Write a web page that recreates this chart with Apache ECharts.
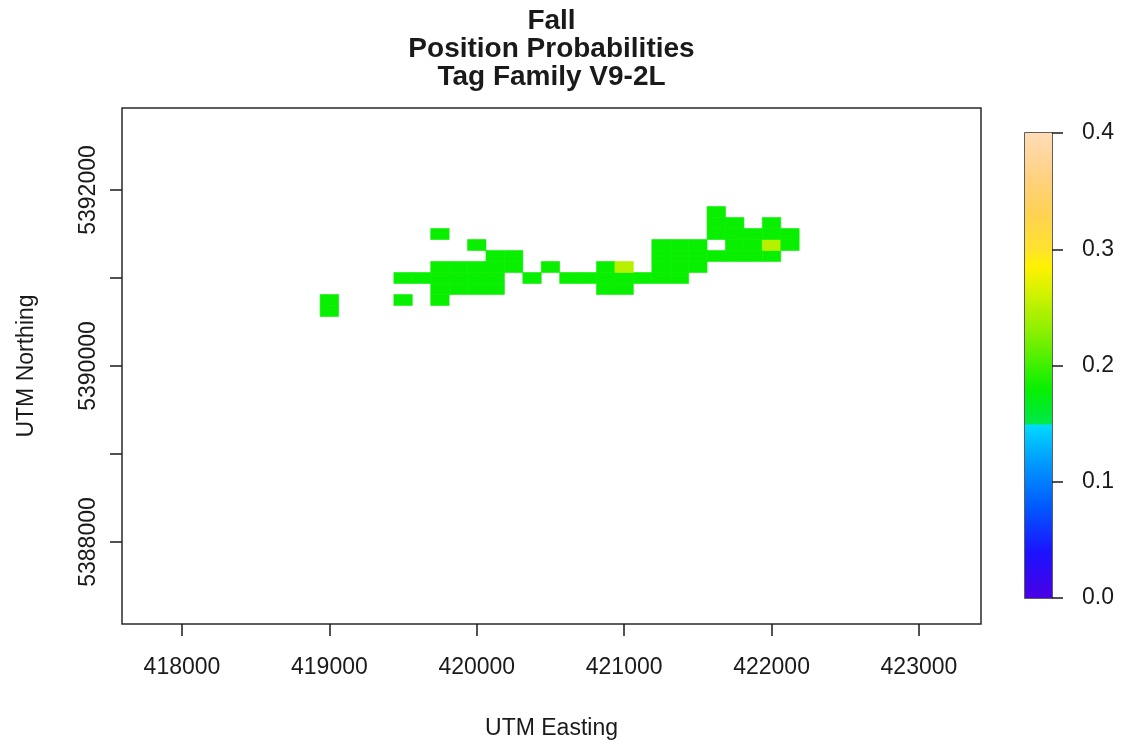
<!DOCTYPE html>
<html>
<head>
<meta charset="utf-8">
<title>Fall Position Probabilities</title>
<script src="https://cdn.jsdelivr.net/npm/echarts@6/dist/echarts.min.js"></script>
<style>
  html, body { margin: 0; padding: 0; background: #ffffff; }
  #chart { width: 1122px; height: 744px; }
</style>
</head>
<body>
<div id="chart"></div>
<script>
// ---- chart content ----
const titleLines = ['Fall', 'Position Probabilities', 'Tag Family V9-2L'];
const xAxisName = 'UTM Easting';
const yAxisName = 'UTM Northing';

// axis ticks and labels (metres)
const xTicks = [418000, 419000, 420000, 421000, 422000, 423000];
const yTicks = [5388000, 5389000, 5390000, 5391000, 5392000];
const yLabels = [5388000, 5390000, 5392000];
const probTicks = [0, 0.1, 0.2, 0.3, 0.4];

// grid cell centres (UTM metres) and position probability of each cell
const eastings = [
  419000,
  419000, 419500, 419750,
  419750, 419875, 420000, 420125, 420875, 421000,
  419500, 419625, 419750, 419875, 420000, 420125, 420375, 420625, 420750, 420875, 421000, 421125, 421250, 421375,
  419750, 419875, 420000, 420125, 420250, 420500, 420875, 421000, 421250, 421375, 421500,
  420125, 420250, 421250, 421375, 421500, 421625, 421750, 421875, 422000,
  420000, 421250, 421375, 421500, 421750, 421875, 422000, 422125,
  419750, 421625, 421750, 421875, 422000, 422125,
  421625, 421750, 422000,
  421625
];
const northings = [
  5390625,
  5390750, 5390750, 5390750,
  5390875, 5390875, 5390875, 5390875, 5390875, 5390875,
  5391000, 5391000, 5391000, 5391000, 5391000, 5391000, 5391000, 5391000, 5391000, 5391000, 5391000, 5391000, 5391000, 5391000,
  5391125, 5391125, 5391125, 5391125, 5391125, 5391125, 5391125, 5391125, 5391125, 5391125, 5391125,
  5391250, 5391250, 5391250, 5391250, 5391250, 5391250, 5391250, 5391250, 5391250,
  5391375, 5391375, 5391375, 5391375, 5391375, 5391375, 5391375, 5391375,
  5391500, 5391500, 5391500, 5391500, 5391500, 5391500,
  5391625, 5391625, 5391625,
  5391750
];
const probs = [
  0.18,
  0.18, 0.18, 0.18,
  0.18, 0.18, 0.18, 0.18, 0.18, 0.18,
  0.18, 0.18, 0.18, 0.18, 0.18, 0.18, 0.18, 0.18, 0.18, 0.18, 0.18, 0.18, 0.18, 0.18,
  0.18, 0.18, 0.18, 0.18, 0.18, 0.18, 0.18, 0.25, 0.18, 0.18, 0.18,
  0.18, 0.18, 0.18, 0.18, 0.18, 0.18, 0.18, 0.18, 0.18,
  0.18, 0.18, 0.18, 0.18, 0.18, 0.18, 0.25, 0.18,
  0.18, 0.18, 0.18, 0.18, 0.18, 0.18,
  0.18, 0.18, 0.18,
  0.18
];

// ---- styling ----
const CELL_SIZE = 125;               // metres per grid cell side
const X_RANGE = [417593, 423421];
const Y_RANGE = [5387068, 5392932];
const P_MAX = 0.4;
const FONT = "'Liberation Sans', Arial, Helvetica, sans-serif";
const INK = '#1a1a1a';

// colour ramp of the probability scale: [value, colour]
const rampStops = [
  [0.000, '#4a00e4'],
  [0.040, '#1a14ff'],
  [0.080, '#005cff'],
  [0.115, '#0098ff'],
  [0.140, '#00c8ff'],
  [0.1485, '#00dcff'],
  [0.1500, '#00e84a'],
  [0.165, '#00ec22'],
  [0.180, '#08f000'],
  [0.200, '#3ef000'],
  [0.230, '#8cf000'],
  [0.260, '#cdf200'],
  [0.285, '#fff200'],
  [0.300, '#ffe22e'],
  [0.330, '#ffd252'],
  [0.360, '#ffd17e'],
  [0.400, '#ffdcb6']
];

function hexRgb(h) {
  return [parseInt(h.slice(1, 3), 16), parseInt(h.slice(3, 5), 16), parseInt(h.slice(5, 7), 16)];
}
function rampColor(v) {
  for (let k = 1; k < rampStops.length; k++) {
    const a = rampStops[k - 1], b = rampStops[k];
    if (v <= b[0]) {
      const t = (v - a[0]) / (b[0] - a[0]);
      const ca = hexRgb(a[1]), cb = hexRgb(b[1]);
      const c = ca.map((x, idx) => Math.round(x + (cb[idx] - x) * t));
      return 'rgb(' + c.join(',') + ')';
    }
  }
  return rampStops[rampStops.length - 1][1];
}
// finely sampled palette so the visualMap keeps the sharp cyan/green step
const palette = [];
for (let k = 0; k <= 400; k++) palette.push(rampColor(P_MAX * k / 400));

const cells = eastings.map((e, idx) => [e, northings[idx], probs[idx]]);

const tickStyle = { color: INK, width: 1.5 };
const labelStyle = { color: INK, fontSize: 23, fontFamily: FONT };

const chart = echarts.init(document.getElementById('chart'), null, { renderer: 'canvas' });

chart.setOption({
  animation: false,
  backgroundColor: '#ffffff',
  graphic: titleLines.map((line, idx) => ({
    type: 'text',
    x: 551.5,
    y: 21 + idx * 28,
    style: {
      text: line,
      fill: INK,
      font: "bold 28px " + FONT,
      textAlign: 'center',
      textVerticalAlign: 'middle'
    }
  })),
  grid: [
    { left: 122, top: 108, width: 859, height: 516, outerBoundsMode: 'none', containLabel: false,
      show: true, borderColor: '#2a2a2a', borderWidth: 1.5, backgroundColor: '#ffffff' },
    { left: 1025, top: 133, width: 27, height: 465, outerBoundsMode: 'none', containLabel: false,
      show: true, borderColor: '#2a2a2a', borderWidth: 1.5 }
  ],
  visualMap: {
    type: 'continuous',
    show: false,
    min: 0,
    max: P_MAX,
    dimension: 2,
    seriesIndex: 0,
    inRange: { color: palette }
  },
  xAxis: [
    {
      type: 'value',
      gridIndex: 0,
      min: X_RANGE[0],
      max: X_RANGE[1],
      axisLine: { show: false },
      splitLine: { show: false },
      axisTick: { show: true, customValues: xTicks, length: 12, lineStyle: tickStyle },
      axisLabel: Object.assign({ customValues: xTicks, margin: 32, formatter: v => String(v) }, labelStyle),
      name: xAxisName,
      nameLocation: 'middle',
      nameGap: 93,
      nameTextStyle: { color: INK, fontSize: 23, fontFamily: FONT }
    },
    {
      type: 'category',
      gridIndex: 1,
      data: ['p'],
      show: false
    }
  ],
  yAxis: [
    {
      type: 'value',
      gridIndex: 0,
      min: Y_RANGE[0],
      max: Y_RANGE[1],
      axisLine: { show: false },
      splitLine: { show: false },
      axisTick: { show: true, customValues: yTicks, length: 12, lineStyle: tickStyle },
      axisLabel: Object.assign({ customValues: yLabels, margin: 22, rotate: 90, formatter: v => String(v) }, labelStyle),
      name: yAxisName,
      nameLocation: 'middle',
      nameGap: 84,
      nameRotate: 90,
      nameTextStyle: { color: INK, fontSize: 23, fontFamily: FONT }
    },
    {
      type: 'value',
      gridIndex: 1,
      position: 'right',
      min: 0,
      max: P_MAX,
      axisLine: { show: false },
      splitLine: { show: false },
      axisTick: { show: true, customValues: probTicks, length: 11, lineStyle: tickStyle },
      axisLabel: Object.assign({ customValues: probTicks, margin: 30, formatter: v => v.toFixed(1) }, labelStyle)
    }
  ],
  series: [
    {
      type: 'custom',
      xAxisIndex: 0,
      yAxisIndex: 0,
      silent: true,
      data: cells,
      renderItem: function (params, api) {
        const e = api.value(0), n = api.value(1);
        const half = CELL_SIZE / 2;
        const p0 = api.coord([e - half, n + half]);
        const p1 = api.coord([e + half, n - half]);
        const color = api.visual('color');
        return {
          type: 'rect',
          shape: { x: p0[0], y: p0[1], width: p1[0] - p0[0], height: p1[1] - p0[1] },
          style: { fill: color, stroke: color, lineWidth: 0.6 }
        };
      }
    },
    {
      type: 'bar',
      xAxisIndex: 1,
      yAxisIndex: 1,
      silent: true,
      barWidth: '100%',
      data: [P_MAX],
      itemStyle: {
        color: {
          type: 'linear', x: 0, y: 1, x2: 0, y2: 0,
          colorStops: rampStops.map(s => ({ offset: s[0] / P_MAX, color: s[1] }))
        }
      }
    }
  ]
});
</script>
</body>
</html>
